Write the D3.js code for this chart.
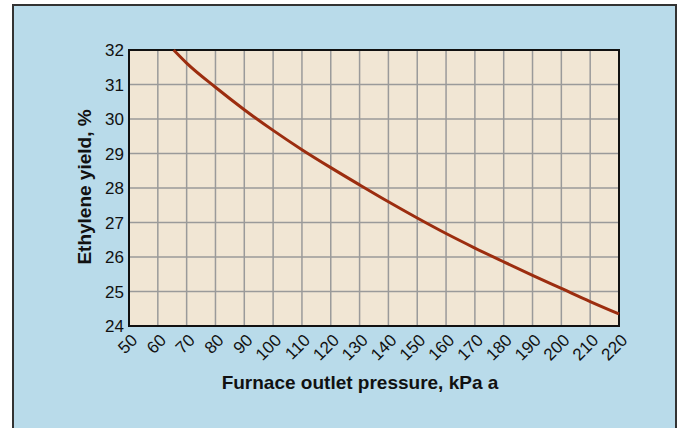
<!DOCTYPE html>
<html><head><meta charset="utf-8">
<script src="https://cdn.jsdelivr.net/npm/d3@7"></script>
<style>body{margin:0;background:#fff;} svg{display:block;font-family:"Liberation Sans",Arial,sans-serif;}</style>
</head><body><svg id="c" width="678" height="428"></svg>
<script>
const pressure = [65.5, 70, 80, 90, 100, 110, 120, 130, 140, 150, 160, 170, 180, 190, 200, 210, 220];
const yieldPct = [32.0, 31.62, 30.92, 30.27, 29.67, 29.11, 28.59, 28.09, 27.60, 27.13, 26.68, 26.26, 25.86, 25.47, 25.09, 24.71, 24.35];
const xTicks = d3.range(50, 221, 10);
const yTicks = [24, 25, 26, 27, 28, 29, 30, 31, 32];
const xTitle = "Furnace outlet pressure, kPa a";
const yTitle = "Ethylene yield, %";

const svg = d3.select("#c");
svg.append("rect").attr("x", 13).attr("y", 5).attr("width", 663).attr("height", 440)
  .attr("fill", "#b9dbea").attr("stroke", "#333").attr("stroke-width", 2);

const x = d3.scaleLinear().domain([50, 220]).range([129, 619]);
const y = d3.scaleLinear().domain([24, 32]).range([326, 50]);

svg.append("rect").attr("x", x(50)).attr("y", y(32)).attr("width", x(220) - x(50)).attr("height", y(24) - y(32))
  .attr("fill", "#f1e6d4");

const grid = svg.append("g").attr("stroke", "#9a9a9a").attr("stroke-width", 1.5);
grid.selectAll(".vx").data(xTicks.slice(1, -1)).join("line")
  .attr("x1", d => x(d)).attr("x2", d => x(d)).attr("y1", y(32)).attr("y2", y(24));
grid.selectAll(".hy").data(yTicks.slice(1, -1)).join("line")
  .attr("y1", d => y(d)).attr("y2", d => y(d)).attr("x1", x(50)).attr("x2", x(220));

svg.append("rect").attr("x", x(50)).attr("y", y(32)).attr("width", x(220) - x(50)).attr("height", y(24) - y(32))
  .attr("fill", "none").attr("stroke", "#111").attr("stroke-width", 2);

const line = d3.line().x((d, i) => x(pressure[i])).y(d => y(d)).curve(d3.curveMonotoneX);
svg.append("path").datum(yieldPct).attr("d", line).attr("fill", "none")
  .attr("stroke", "#9c2d0f").attr("stroke-width", 3);

// y tick labels
svg.append("g").selectAll("text").data(yTicks).join("text")
  .attr("x", x(50) - 5).attr("y", d => y(d)).attr("dy", "0.36em")
  .attr("text-anchor", "end").attr("font-size", 17).attr("fill", "#111").text(d => d);

// x tick labels
svg.append("g").selectAll("text").data(xTicks).join("text")
  .attr("transform", d => `translate(${x(d) + 5},${y(24) + 11}) rotate(-45)`)
  .attr("dy", "0.36em").attr("text-anchor", "end").attr("font-size", 17).attr("fill", "#111").text(d => d);

svg.append("text").attr("x", 360).attr("y", 389).attr("text-anchor", "middle")
  .attr("font-size", 19).attr("font-weight", "bold").attr("fill", "#111").text(xTitle);
svg.append("text").attr("transform", "translate(91,187) rotate(-90)").attr("text-anchor", "middle")
  .attr("font-size", 19).attr("font-weight", "bold").attr("fill", "#111").text(yTitle);
</script></body></html>
